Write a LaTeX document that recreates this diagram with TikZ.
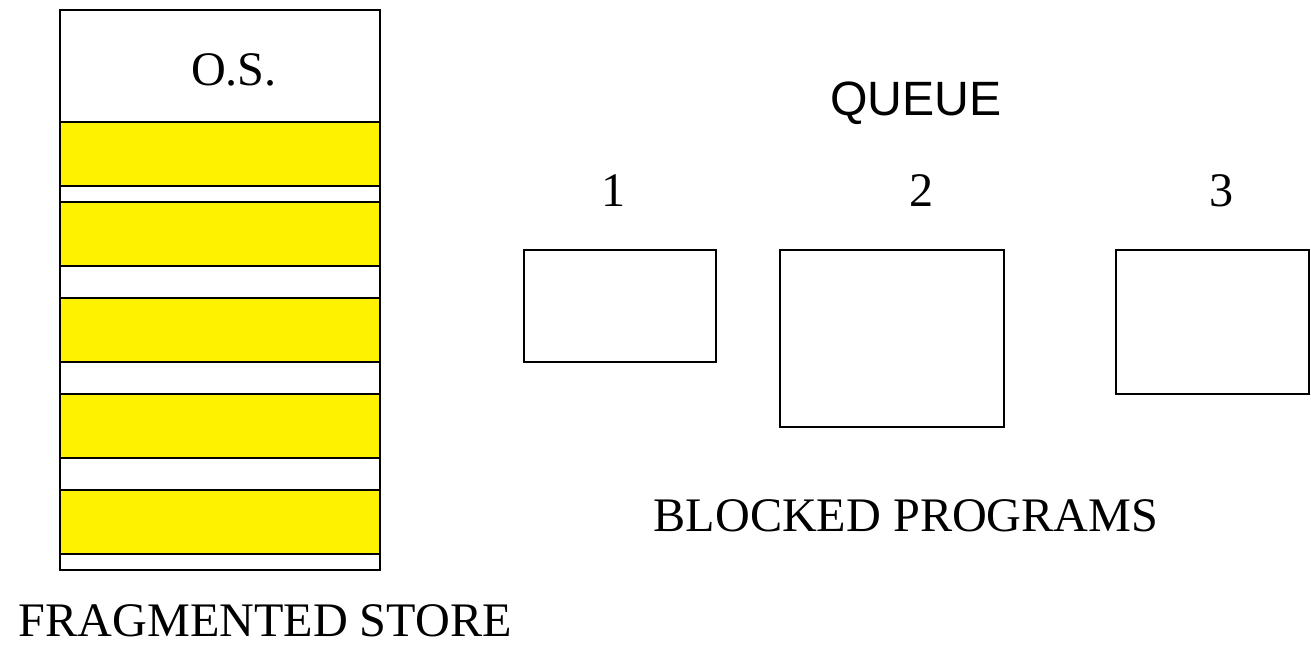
\documentclass[tikz,border=0pt]{standalone}
\usepackage{fontspec}
\setmainfont{Liberation Serif}
\newfontfamily\labelsans{Liberation Sans}
\begin{document}
\begin{tikzpicture}[x=0.01cm,y=-0.01cm,
  cell/.style={draw=black, line width=0.75pt, fill=white},
  used/.style={cell, fill=yellow},
  waiting/.style={draw=black, line width=0.75pt, fill=white, inner sep=0pt},
  lbl/.style={font=\fontsize{13.7pt}{16pt}\selectfont, inner sep=0pt, anchor=base},
]
\useasboundingbox (0,0) rectangle (1311,647);

% main store: operating system on top, then allocated partitions with holes
\draw[cell] (60,10) rectangle (380,570);
\draw[cell] (60,10) rectangle (380,122);
\foreach \t/\b in {122/186,202/266,298/362,394/458,490/554}
  \draw[used] (60,\t) rectangle (380,\b);
\node[lbl] (os) at (234,85) {O.S.};
\node[lbl, anchor=base west] (store) at (18,636) {FRAGMENTED STORE};

% queue of blocked programs
\node[lbl, font=\labelsans\fontsize{13.7pt}{16pt}\selectfont] (queue) at (916,115) {QUEUE};
\node[waiting, minimum width=1.92cm, minimum height=1.12cm] (p1) at (620,306) {};
\node[waiting, minimum width=2.24cm, minimum height=1.77cm] (p2) at (892,338.5) {};
\node[waiting, minimum width=1.93cm, minimum height=1.44cm] (p3) at (1212.5,322) {};
\node[lbl] (n1) at (614,206) {1};
\node[lbl] (n2) at (922,206) {2};
\node[lbl] (n3) at (1222,206) {3};
\node[lbl] (blocked) at (906,531) {BLOCKED PROGRAMS};
\end{tikzpicture}
\end{document}
